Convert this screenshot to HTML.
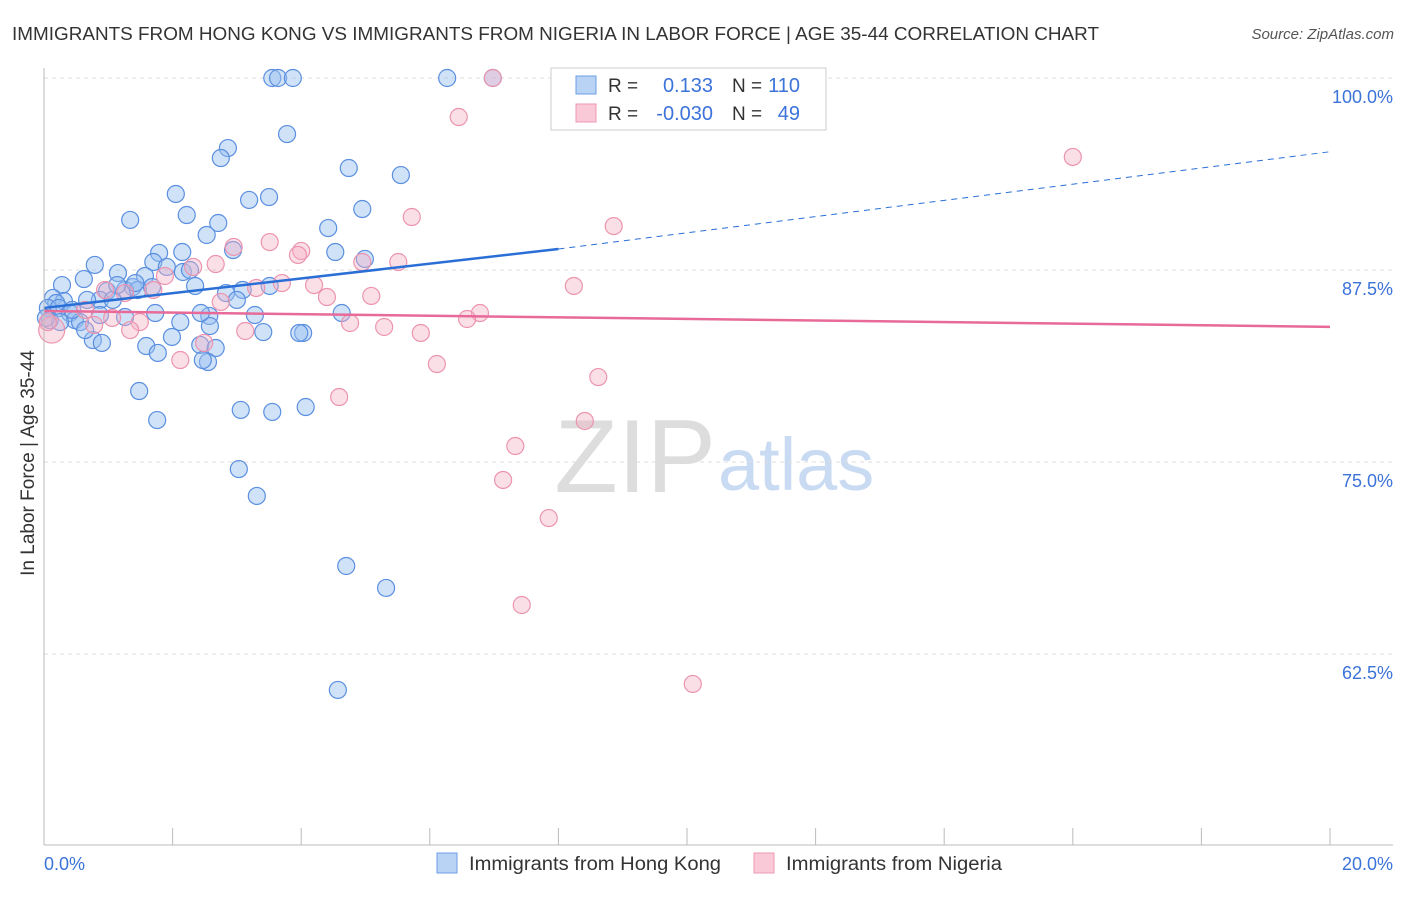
<!DOCTYPE html>
<html><head><meta charset="utf-8"><style>
body{margin:0;background:#fff;font-family:"Liberation Sans",sans-serif}
svg text{font-family:"Liberation Sans",sans-serif}
</style></head><body>
<svg id="c" width="1406" height="892" xmlns="http://www.w3.org/2000/svg">
<text x="12" y="40" font-size="18.5" fill="#333" textLength="1087" lengthAdjust="spacingAndGlyphs">IMMIGRANTS FROM HONG KONG VS IMMIGRANTS FROM NIGERIA IN LABOR FORCE | AGE 35-44 CORRELATION CHART</text>
<text x="1394" y="39" font-size="15" fill="#555" text-anchor="end" font-style="italic">Source: ZipAtlas.com</text>
<text x="716" y="492" font-size="104" fill="#ddd" text-anchor="end" font-family="Liberation Serif">ZIP</text>
<text x="718" y="490" font-size="74" fill="#c9daf3">atlas</text>
<g id="grid"></g><g id="pts"></g><g id="lines"></g>
<line x1="44" y1="68" x2="44" y2="845" stroke="#bbb"/>
<line x1="44" y1="845" x2="1393" y2="845" stroke="#bbb"/>
<text x="28" y="457" font-size="19" fill="#333" text-anchor="middle" transform="rotate(-90 34 457)">In Labor Force | Age 35-44</text>
<text x="44" y="870" font-size="18" fill="#3b73d9">0.0%</text>
<text x="1393" y="870" font-size="18" fill="#3b73d9" text-anchor="end">20.0%</text>
<g>
<rect x="551" y="68" width="275" height="62" fill="#fff" stroke="#ccc"/>
<rect x="576" y="76" width="20" height="18" fill="#b9d3f5" stroke="#6d9ee6"/>
<rect x="576" y="104" width="20" height="18" fill="#f9c9d7" stroke="#ee98b1"/>
<text x="608" y="92" font-size="19" fill="#333">R = </text><text x="713" y="92" font-size="20" fill="#3b73d9" text-anchor="end">0.133</text>
<text x="732" y="92" font-size="19" fill="#333">N = </text><text x="800" y="92" font-size="20" fill="#3b73d9" text-anchor="end">110</text>
<text x="608" y="120" font-size="19" fill="#333">R = </text><text x="713" y="120" font-size="20" fill="#3b73d9" text-anchor="end">-0.030</text>
<text x="732" y="120" font-size="19" fill="#333">N = </text><text x="800" y="120" font-size="20" fill="#3b73d9" text-anchor="end">49</text>
</g>
<g>
<rect x="437" y="853" width="20" height="20" fill="#b9d3f5" stroke="#6d9ee6"/>
<text x="469" y="870" font-size="19" fill="#333" textLength="252" lengthAdjust="spacingAndGlyphs">Immigrants from Hong Kong</text>
<rect x="754" y="853" width="20" height="20" fill="#f9c9d7" stroke="#ee98b1"/>
<text x="786" y="870" font-size="19" fill="#333" textLength="216" lengthAdjust="spacingAndGlyphs">Immigrants from Nigeria</text>
</g>
</svg>
<script>
const yTicks=[100,87.5,75,62.5];
const yTickLabels=["100.0%","87.5%","75.0%","62.5%"];
const xTicks=[0,2,4,6,8,10,12,14,16,18,20];
const hkX=[3.55,3.64,3.87,6.27,6.98,3.78,2.86,2.75,4.74,5.55,2.05,3.50,3.19,4.95,2.22,1.34,2.71,4.42,2.53,2.15,1.79,2.94,4.53,4.99,0.79,1.70,1.91,2.16,1.15,0.62,1.57,2.27,0.28,1.38,0.98,1.26,1.46,1.68,2.35,2.83,3.51,3.09,3.00,0.87,0.14,0.31,0.67,0.19,0.06,0.23,0.40,0.48,0.56,0.09,0.44,0.87,1.26,1.73,2.57,2.12,2.58,3.28,2.44,4.63,0.76,0.90,1.59,1.99,2.43,1.77,2.67,3.41,4.03,3.97,2.55,2.47,1.48,1.76,3.06,3.55,4.07,3.03,3.31,4.70,5.32,4.57,1.07,1.14,0.64,0.25,0.03,1.42];
const hkY=[100,100,100,100,100,96.35,95.44,94.79,94.14,93.68,92.45,92.25,92.06,91.47,91.08,90.76,90.56,90.23,89.78,88.67,88.61,88.80,88.67,88.22,87.83,88.02,87.70,87.37,87.30,86.91,87.11,87.50,86.52,86.39,86.13,86.20,86.20,86.39,86.46,86.00,86.46,86.20,85.55,85.55,85.68,85.48,85.55,85.35,85.03,85.03,84.70,84.24,84.11,84.24,84.90,84.57,84.44,84.70,84.51,84.11,83.85,84.57,84.70,84.70,82.94,82.75,82.55,83.14,82.62,82.10,82.42,83.46,83.40,83.40,81.51,81.64,79.62,77.73,78.39,78.26,78.58,74.54,72.79,68.23,66.80,60.16,85.55,86.52,83.59,84.11,84.38,86.65];
const ngX=[11.91,6.98,6.45,16.0,5.72,8.86,2.95,3.51,4.00,3.95,4.95,5.51,2.67,2.32,1.88,3.70,3.30,4.20,8.24,5.09,4.40,2.75,0.95,1.26,1.70,0.64,1.06,1.49,6.78,6.58,4.76,5.29,5.86,3.13,1.34,0.78,2.12,6.11,2.49,8.62,4.59,8.41,7.33,7.14,7.85,7.43,10.09,0.12,0.06];
const ngY=[100,100,97.46,94.86,90.95,90.36,89.00,89.32,88.74,88.48,88.02,88.02,87.89,87.70,87.11,86.65,86.33,86.52,86.46,85.81,85.74,85.42,86.20,86.00,86.20,84.90,84.38,84.11,84.70,84.31,84.05,83.79,83.40,83.53,83.59,83.92,81.64,81.38,82.75,80.53,79.23,77.67,76.04,73.83,71.35,65.69,60.55,83.59,84.11];
const hkLine=[[0,85.03],[8.0,88.87],[20,95.2]];
const ngLine=[[0,84.83],[20,83.8]];
const NS="http://www.w3.org/2000/svg";
const sx=v=>44+v/20*1286, sy=v=>78+(100-v)*15.36;
function mk(t,a,p){const e=document.createElementNS(NS,t);for(const k in a)e.setAttribute(k,a[k]);p.appendChild(e);return e;}
const g=document.getElementById('grid');
yTicks.forEach((v,i)=>{const l=mk('line',{x1:44,x2:1393,y1:sy(v),y2:sy(v),stroke:'#ddd','stroke-dasharray':'4 4'},g);


const t=mk('text',{x:1393,y:sy(v)+25,'font-size':18,fill:'#3b73d9','text-anchor':'end'},g);t.textContent=yTickLabels[i];

});
xTicks.forEach(v=>{const l=mk('line',{x1:sx(v),x2:sx(v),y1:828,y2:845,stroke:'#bbb'},g);

});
const p=document.getElementById('pts');
hkX.forEach((x,i)=>{const c=mk('circle',{cx:sx(x),cy:sy(hkY[i]),r:8.5,fill:'rgba(150,190,240,0.45)',stroke:'#5b8fe0','stroke-width':1.2},p);

});
ngX.forEach((x,i)=>{const c=mk('circle',{cx:sx(x),cy:sy(ngY[i]),r:i==47?13:8.5,fill:'rgba(245,175,195,0.4)',stroke:'#ec94ae','stroke-width':1.2},p);

});
const L=document.getElementById('lines');
let a=mk('line',{x1:sx(hkLine[0][0]),y1:sy(hkLine[0][1]),x2:sx(hkLine[1][0]),y2:sy(hkLine[1][1]),stroke:'#2a6fd6','stroke-width':2.5},L);


a=mk('line',{x1:sx(hkLine[1][0]),y1:sy(hkLine[1][1]),x2:sx(hkLine[2][0]),y2:sy(hkLine[2][1]),stroke:'#2a6fd6','stroke-width':1,'stroke-dasharray':'6 5'},L);


a=mk('line',{x1:sx(ngLine[0][0]),y1:sy(ngLine[0][1]),x2:sx(ngLine[1][0]),y2:sy(ngLine[1][1]),stroke:'#e76a98','stroke-width':2.5},L);


</script>
</body></html>
